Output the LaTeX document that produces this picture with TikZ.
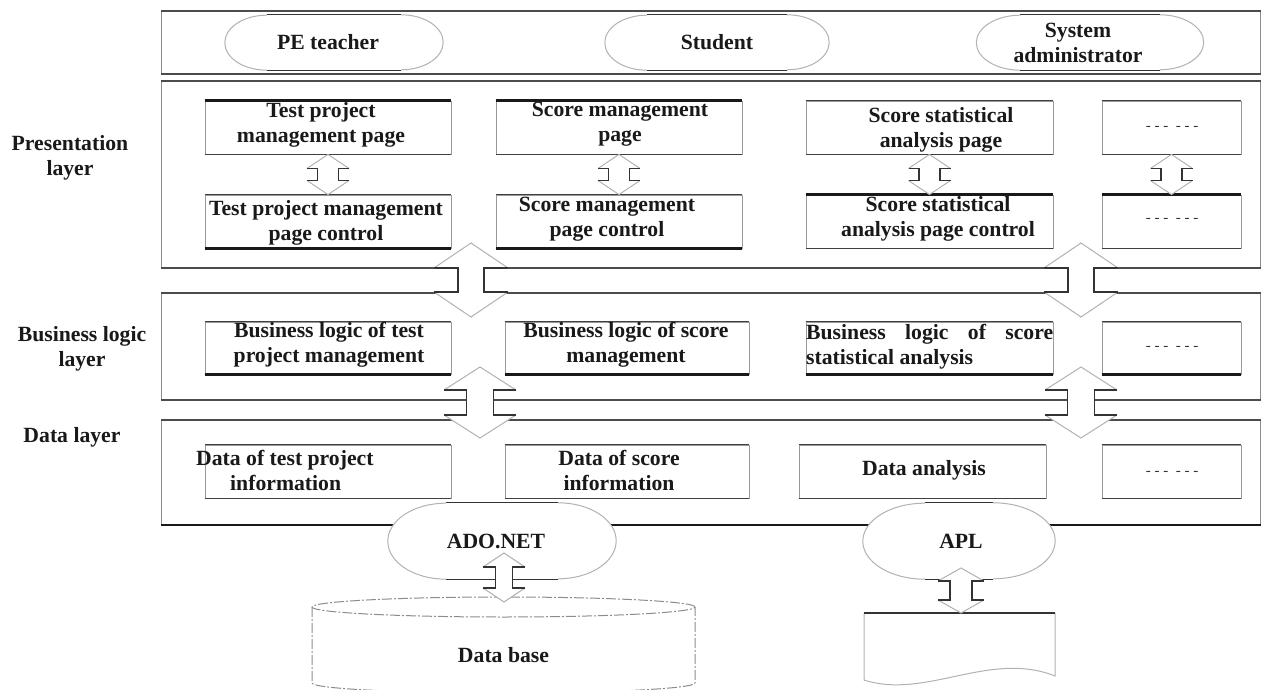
\documentclass[tikz,border=0pt]{standalone}
\usepackage{fontspec}
\setmainfont{Liberation Serif}

% rectangular cell with darker top and bottom edges
\newcommand\cell[5]{%
  \node[boxframe, minimum width=#4, minimum height=#5] (#1) at (#2,#3) {};
  \draw[edgeline] (#1.north west) -- (#1.north east) (#1.south west) -- (#1.south east);
}

% rounded "terminal" outline: name, centre, width, height, x radius, y radius, text shift, text
\newcommand\stadium[8]{%
  \node[minimum width=#3, minimum height=#4, inner sep=0pt] (#1-f) at (#2) {};
  \fill[white] ([xshift=#5pt]#1-f.north west) -- ([xshift=-#5pt]#1-f.north east)
     arc[start angle=90, end angle=-90, x radius=#5pt, y radius=#6pt]
     -- ([xshift=#5pt]#1-f.south west)
     arc[start angle=270, end angle=90, x radius=#5pt, y radius=#6pt] -- cycle;
  \draw[softline] ([xshift=-#5pt]#1-f.north east)
     arc[start angle=90, end angle=-90, x radius=#5pt, y radius=#6pt];
  \draw[softline] ([xshift=#5pt]#1-f.south west)
     arc[start angle=270, end angle=90, x radius=#5pt, y radius=#6pt];
  \draw[hardline] ([xshift=#5pt]#1-f.north west) -- ([xshift=-#5pt]#1-f.north east)
     ([xshift=#5pt]#1-f.south west) -- ([xshift=-#5pt]#1-f.south east);
  \node[lbl] (#1) at ([xshift=#7]#1-f) {#8};
}

% hollow two-way block arrow: top tip, bottom tip, head length, head half width, shaft half width
\newcommand\blockarrow[5]{%
  \coordinate (ba-t) at (#1);
  \coordinate (ba-b) at (#2);
  \fill[white] (ba-t) -- ([shift={(-#4pt,-#3pt)}]ba-t) -- ([shift={(-#5pt,-#3pt)}]ba-t)
    -- ([shift={(-#5pt,#3pt)}]ba-b) -- ([shift={(-#4pt,#3pt)}]ba-b) -- (ba-b)
    -- ([shift={(#4pt,#3pt)}]ba-b) -- ([shift={(#5pt,#3pt)}]ba-b)
    -- ([shift={(#5pt,-#3pt)}]ba-t) -- ([shift={(#4pt,-#3pt)}]ba-t) -- cycle;
  \draw[softline] ([shift={(-#4pt,-#3pt)}]ba-t) -- (ba-t) -- ([shift={(#4pt,-#3pt)}]ba-t);
  \draw[softline] ([shift={(-#4pt,#3pt)}]ba-b) -- (ba-b) -- ([shift={(#4pt,#3pt)}]ba-b);
  \draw[hardline] ([shift={(-#4pt,-#3pt)}]ba-t) -- ([shift={(-#5pt,-#3pt)}]ba-t)
    -- ([shift={(-#5pt,#3pt)}]ba-b) -- ([shift={(-#4pt,#3pt)}]ba-b);
  \draw[hardline] ([shift={(#4pt,-#3pt)}]ba-t) -- ([shift={(#5pt,-#3pt)}]ba-t)
    -- ([shift={(#5pt,#3pt)}]ba-b) -- ([shift={(#4pt,#3pt)}]ba-b);
}

\begin{document}
\begin{tikzpicture}[x=1pt, y=-1pt,
  lbl/.style={font=\bfseries\fontsize{21.7}{25}\selectfont, text=black!90, inner sep=0pt, align=center},
  dotmark/.style={font=\fontsize{15}{15}\selectfont, text=black!80, inner sep=0pt},
  boxframe/.style={draw=black!40, line width=0.9pt, inner sep=0pt},
  edgeline/.style={draw=black!75, line width=1.3pt},
  heavyedge/.style={draw=black!90, line width=2.6pt},
  softline/.style={draw=black!30, line width=1pt},
  hardline/.style={draw=black!80, line width=1.3pt},
  framesides/.style={draw=black!45, line width=1pt},
  frameedge/.style={draw=black!70, line width=2pt},
  dbline/.style={draw=black!45, line width=1pt, dash pattern=on 10pt off 2pt on 2pt off 2pt},
]
\useasboundingbox (0,0) rectangle (1262,690);
\fill[white] (0,0) rectangle (1262,690);

% layer frames
\foreach \yt/\yb in {11/74, 81/268, 293/400, 420/525} {
  \draw[framesides] (161,\yt) rectangle (1260.5,\yb);
  \draw[frameedge] (161,\yt) -- (1260.5,\yt) (161,\yb) -- (1260.5,\yb);
}
\draw[draw=black!90, line width=2.4pt] (161,525) -- (1260.5,525);

% layer names
\node[lbl] (lpres) at (70,157.5) {Presentation\\layer};
\node[lbl] (lbiz) at (82,348.5) {Business logic\\layer};
\node[lbl] (ldata) at (72,437) {Data layer};

% presentation layer cells
\cell{p1}{328}{127.5}{246}{53}
\cell{p2}{619}{127.5}{246}{53}
\cell{p3}{929.5}{127.5}{247}{53}
\cell{p4}{1171.5}{127.5}{139}{53}
\cell{p1c}{328}{221.5}{246}{53}
\cell{p2c}{619}{221.5}{246}{53}
\cell{p3c}{929.5}{221.5}{247}{53}
\cell{p4c}{1171.5}{221.5}{139}{53}
% business logic cells
\cell{b1}{328}{348}{246}{52}
\cell{b2}{627}{348}{244}{52}
\cell{b3}{929.5}{348}{247}{52}
\cell{b4}{1171.5}{348}{139}{52}
% data cells
\cell{d1}{328}{471.5}{246}{53}
\cell{d2}{627}{471.5}{244}{53}
\cell{d3}{922.5}{471.5}{247}{53}
\cell{d4}{1171.5}{471.5}{139}{53}

% heavy edges
\draw[heavyedge] (p1.north west) -- (p1.north east);
\draw[heavyedge] (p2.north west) -- (p2.north east);
\draw[heavyedge] (p1c.south west) -- (p1c.south east);
\draw[heavyedge] (p2c.south west) -- (p2c.south east);
\draw[heavyedge] (p3c.north west) -- (p3c.north east);
\draw[heavyedge] (p4c.north west) -- (p4c.north east);
\foreach \n in {b1,b2,b3,b4} \draw[heavyedge] (\n.south west) -- (\n.south east);

% cell texts
\node[lbl] (tp1) at (321,124.5) {Test project\\management page};
\node[lbl] (tp2) at (620,124.5) {Score management\\page};
\node[lbl] (tp3) at (941,130) {Score statistical\\analysis page};
\node[dotmark] (tp4) at (1172,128) {- - -\enspace- - -};
\node[lbl] (tp1c) at (326,222.5) {Test project management\\page control};
\node[lbl] (tp2c) at (607,219) {Score management\\page control};
\node[lbl] (tp3c) at (938,218.5) {Score statistical\\analysis page control};
\node[dotmark] (tp4c) at (1172,220) {- - -\enspace- - -};
\node[lbl] (tb1) at (329,345) {Business logic of test\\project management};
\node[lbl] (tb2) at (626,345) {Business logic of score\\management};
\node[lbl, anchor=west, align=left] (tb3) at (806,347)
  {\makebox[247pt][s]{Business logic of score}\\statistical analysis};
\node[dotmark] (tb4) at (1172,348) {- - -\enspace- - -};
\node[lbl, anchor=west, align=left] (td1) at (196,470.5)
  {Data of test project\\\hspace*{34pt}information};
\node[lbl] (td2) at (619,470) {Data of score\\information};
\node[lbl] (td3) at (924,470) {Data analysis};
\node[dotmark] (td4) at (1172,473) {- - -\enspace- - -};

% arrows inside the presentation layer
\blockarrow{p1.south}{p1c.north}{14}{21}{10.5}
\blockarrow{p2.south}{p2c.north}{14}{21}{10.5}
\blockarrow{p3.south}{p3c.north}{14}{21}{10.5}
\blockarrow{p4.south}{p4c.north}{14}{21}{10.5}

% arrows between layers
\coordinate (a1t) at (471,243);  \coordinate (a1b) at (471,317);
\coordinate (a2t) at (1081,243); \coordinate (a2b) at (1081,317);
\coordinate (a3t) at (480,367);  \coordinate (a3b) at (480,438);
\coordinate (a4t) at (1081,367); \coordinate (a4b) at (1081,438);
\blockarrow{a1t}{a1b}{25}{37}{13}
\blockarrow{a2t}{a2b}{25}{37}{13}
\blockarrow{a3t}{a3b}{23}{36}{13.5}
\blockarrow{a4t}{a4b}{23}{36}{13.5}

% users
\stadium{pe}{334,42.5}{218}{55}{42}{27.5}{-6}{PE teacher}
\stadium{stu}{717,42.5}{224}{55}{42}{27.5}{0}{Student}
\stadium{adm}{1090,42.5}{227}{55}{44}{27.5}{-12}{System\\administrator}

% database cylinder
\fill[white] (312,607) -- (312,683)
  arc[start angle=180, end angle=360, x radius=191.5pt, y radius=10pt] -- (695,607) -- cycle;
\draw[dbline] (312,607) -- (312,683)
  arc[start angle=180, end angle=360, x radius=191.5pt, y radius=10pt] -- (695,607);
\draw[dbline] (503.5,607) ellipse[x radius=191.5pt, y radius=10pt];
\node[lbl] (db) at (503.5,655) {Data base};

% report sheet
\fill[white] (864,613) -- (864,680) .. controls (925,700) and (990,650) .. (1055,676) -- (1055,613) -- cycle;
\draw[softline] (864,613) -- (864,680) .. controls (925,700) and (990,650) .. (1055,676) -- (1055,613);
\draw[hardline] (864,613) -- (1055,613);

% access components
\stadium{ado}{502,541}{228}{76}{58}{38}{-6}{ADO.NET}
\stadium{apl}{959,541}{192}{76}{62}{38}{2}{APL}

\coordinate (adot) at (504,553); \coordinate (adob) at (504,602);
\coordinate (aplt) at (961,568); \coordinate (aplb) at (961,613);
\blockarrow{adot}{adob}{14}{21}{8.5}
\blockarrow{aplt}{aplb}{13}{23}{11}
\end{tikzpicture}
\end{document}
